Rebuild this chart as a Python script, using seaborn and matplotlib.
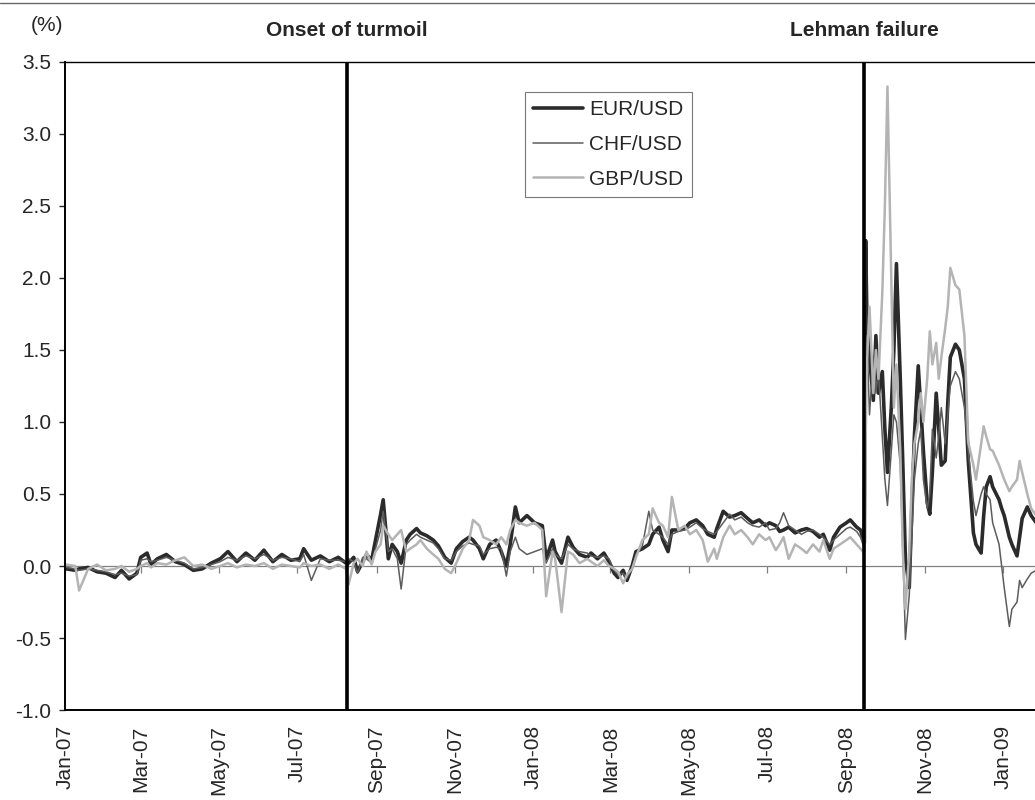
import pandas as pd
import matplotlib
matplotlib.use("Agg")
import matplotlib.pyplot as plt
import matplotlib.transforms as mtransforms
from matplotlib.lines import Line2D
import seaborn as sns

# ---- data (% deviation) ----
DATES = [
    # 2007, pre-turmoil
    "2007-01-02", "2007-01-09", "2007-01-12", "2007-01-19", "2007-01-26",
    "2007-02-02", "2007-02-09", "2007-02-14", "2007-02-20", "2007-02-26",
    "2007-03-01", "2007-03-06", "2007-03-09", "2007-03-14", "2007-03-21", "2007-03-28",
    "2007-04-04", "2007-04-11", "2007-04-18", "2007-04-25",
    "2007-05-02", "2007-05-08", "2007-05-15", "2007-05-22", "2007-05-29",
    "2007-06-05", "2007-06-12", "2007-06-19", "2007-06-26",
    "2007-07-03", "2007-07-06", "2007-07-12", "2007-07-19", "2007-07-26",
    "2007-08-02", "2007-08-08",
    # turmoil
    "2007-08-10", "2007-08-14", "2007-08-17", "2007-08-21", "2007-08-24", "2007-08-28", "2007-08-31",
    "2007-09-04", "2007-09-06", "2007-09-10", "2007-09-13", "2007-09-17", "2007-09-20", "2007-09-24", "2007-09-27",
    "2007-10-02", "2007-10-05", "2007-10-10", "2007-10-15", "2007-10-19", "2007-10-24",
    "2007-10-29", "2007-11-02", "2007-11-07", "2007-11-12", "2007-11-15", "2007-11-20", "2007-11-23",
    "2007-11-28", "2007-12-03", "2007-12-07", "2007-12-11", "2007-12-14", "2007-12-18", "2007-12-21",
    "2007-12-27", "2008-01-02", "2008-01-08", "2008-01-11", "2008-01-16", "2008-01-18", "2008-01-23",
    "2008-01-28", "2008-02-01", "2008-02-06", "2008-02-12", "2008-02-15", "2008-02-20", "2008-02-25",
    "2008-02-29", "2008-03-04", "2008-03-07", "2008-03-11", "2008-03-14", "2008-03-18", "2008-03-21",
    "2008-03-26", "2008-03-31",
    "2008-04-03", "2008-04-08", "2008-04-11", "2008-04-15", "2008-04-18", "2008-04-23", "2008-04-28",
    "2008-05-02", "2008-05-07", "2008-05-12", "2008-05-16", "2008-05-21", "2008-05-23", "2008-05-28",
    "2008-06-02", "2008-06-06", "2008-06-11", "2008-06-16", "2008-06-20", "2008-06-25", "2008-06-30",
    "2008-07-03", "2008-07-08", "2008-07-11", "2008-07-14", "2008-07-18", "2008-07-23", "2008-07-28",
    "2008-08-01", "2008-08-06", "2008-08-11", "2008-08-14", "2008-08-19", "2008-08-22", "2008-08-27",
    "2008-09-01", "2008-09-04", "2008-09-09", "2008-09-12",
    # post-Lehman
    "2008-09-15", "2008-09-16", "2008-09-17", "2008-09-19", "2008-09-22", "2008-09-24", "2008-09-26",
    "2008-09-29", "2008-10-01", "2008-10-03", "2008-10-06", "2008-10-08", "2008-10-10", "2008-10-13",
    "2008-10-15", "2008-10-17", "2008-10-20", "2008-10-22", "2008-10-24", "2008-10-27", "2008-10-29",
    "2008-10-31", "2008-11-03", "2008-11-05", "2008-11-07", "2008-11-10", "2008-11-12", "2008-11-14",
    "2008-11-17", "2008-11-19", "2008-11-21", "2008-11-25", "2008-11-28",
    "2008-12-02", "2008-12-05", "2008-12-09", "2008-12-11", "2008-12-15", "2008-12-17", "2008-12-19",
    "2008-12-22", "2008-12-24", "2008-12-29", "2008-12-31",
    "2009-01-02", "2009-01-06", "2009-01-08", "2009-01-12", "2009-01-14", "2009-01-16", "2009-01-20",
    "2009-01-23", "2009-01-27",
]

EUR_USD = [
    -0.02, -0.03, -0.02, -0.01, -0.04,
    -0.05, -0.08, -0.03, -0.09, -0.05,
    0.06, 0.09, 0.01, 0.05, 0.08, 0.03,
    0.01, -0.03, -0.02, 0.02,
    0.05, 0.10, 0.03, 0.09, 0.04,
    0.11, 0.03, 0.08, 0.04,
    0.05, 0.12, 0.04, 0.07, 0.03,
    0.06, 0.02,
    0.02, 0.06, -0.04, 0.03, 0.08, 0.04, 0.18,
    0.36, 0.46, 0.05, 0.15, 0.10, 0.02, 0.18, 0.22,
    0.26, 0.23, 0.21, 0.18, 0.14, 0.06,
    0.02, 0.12, 0.17, 0.20, 0.18, 0.12, 0.05,
    0.15, 0.18, 0.10, 0.00, 0.15, 0.41, 0.30,
    0.35, 0.30, 0.28, 0.05, 0.18, 0.10, 0.02,
    0.20, 0.13, 0.08, 0.06, 0.09, 0.05, 0.09,
    0.03, -0.05, -0.08, -0.03, -0.10, 0.00, 0.10,
    0.12, 0.15,
    0.22, 0.27, 0.18, 0.10, 0.25, 0.25, 0.26,
    0.30, 0.32, 0.28, 0.22, 0.20, 0.26, 0.38,
    0.34, 0.35, 0.37, 0.33, 0.30, 0.32, 0.28,
    0.30, 0.28, 0.24, 0.25, 0.27, 0.23, 0.25,
    0.26, 0.24, 0.20, 0.22, 0.11, 0.20, 0.27,
    0.30, 0.32, 0.27, 0.25,
    0.16, 2.26, 1.72, 1.45, 1.15, 1.60, 1.20,
    1.35, 0.95, 0.65, 1.10, 1.50, 2.10, 1.30,
    0.70, 0.05, -0.15, 0.40, 0.90, 1.39, 1.10,
    0.80, 0.44, 0.36, 0.65, 1.20, 0.95, 0.70,
    0.73, 1.13, 1.45, 1.54, 1.50,
    1.30, 0.73, 0.23, 0.15, 0.09, 0.35, 0.55,
    0.62, 0.55, 0.46, 0.40,
    0.35, 0.20, 0.15, 0.07, 0.20, 0.33, 0.41,
    0.35, 0.30,
]

CHF_USD = [
    -0.01, -0.02, -0.03, -0.02, -0.03,
    -0.04, -0.06, -0.05, -0.07, -0.06,
    0.04, 0.05, 0.03, 0.04, 0.06, 0.04,
    0.02, -0.02, -0.01, 0.01,
    0.03, 0.06, 0.04, 0.07, 0.05,
    0.08, 0.04, 0.06, 0.05,
    0.03, 0.08, -0.10, 0.05, 0.04,
    0.04, 0.03,
    0.05, 0.03, -0.05, 0.06, 0.05, 0.02, 0.12,
    0.25, 0.38, 0.10, 0.12, 0.05, -0.16, 0.15, 0.18,
    0.22, 0.20, 0.18, 0.16, 0.12, 0.05,
    0.04, 0.10, 0.14, 0.16, 0.15, 0.14, 0.08,
    0.12, 0.13, 0.12, -0.07, 0.10, 0.20, 0.12,
    0.08, 0.10, 0.12, 0.02, 0.12, 0.08, 0.05,
    0.15, 0.12, 0.10, 0.09, 0.07, 0.06, 0.07,
    0.05, -0.03, -0.06, -0.05, -0.08, -0.02, 0.08,
    0.14, 0.38,
    0.25, 0.22, 0.20, 0.15, 0.22, 0.24, 0.25,
    0.27, 0.30, 0.26, 0.24, 0.22, 0.24, 0.30,
    0.36, 0.32, 0.34, 0.30, 0.28, 0.27, 0.30,
    0.25, 0.26, 0.30, 0.37, 0.28, 0.25, 0.22,
    0.24, 0.25, 0.22, 0.20, 0.15, 0.18, 0.22,
    0.26, 0.27, 0.24, 0.20,
    0.12, 1.50, 1.60, 1.05, 1.45, 1.20, 1.35,
    0.90, 0.60, 0.42, 0.80, 1.05, 1.00, 0.70,
    0.10, -0.51, -0.20, 0.20, 0.60, 0.85, 0.95,
    0.60, 0.40, 0.50, 0.95, 0.75, 0.90, 1.10,
    0.85, 1.05, 1.25, 1.35, 1.30,
    1.10, 0.80, 0.45, 0.35, 0.50, 0.55, 0.50,
    0.46, 0.30, 0.15, 0.00,
    -0.15, -0.42, -0.30, -0.25, -0.10, -0.15, -0.09,
    -0.05, -0.03,
]

GBP_USD = [
    0.01, 0.00, -0.17, -0.02, 0.01,
    -0.03, -0.02, 0.00, -0.04, -0.02,
    0.00, 0.02, -0.01, 0.02, 0.01, 0.04,
    0.06, 0.00, 0.01, -0.02,
    0.00, 0.02, -0.01, 0.01, 0.00,
    0.02, -0.02, 0.01, 0.00,
    -0.01, 0.02, 0.00, 0.01, -0.02,
    0.01, -0.02,
    -0.13, 0.02, 0.05, 0.00, 0.10, 0.01, 0.10,
    0.15, 0.28, 0.22, 0.18, 0.22, 0.25, 0.10, 0.12,
    0.15, 0.18, 0.12, 0.08, 0.05, -0.02,
    -0.05, 0.02, 0.12, 0.18, 0.32, 0.28, 0.20,
    0.18, 0.15, 0.20, 0.15, 0.25, 0.32, 0.30,
    0.28, 0.30, 0.25, -0.21, 0.10, 0.05, -0.32,
    0.10, 0.08, 0.02, 0.05, 0.03, 0.00, 0.04,
    0.00, -0.02, -0.04, -0.12, -0.06, -0.02, 0.06,
    0.18, 0.22,
    0.40, 0.30, 0.28, 0.20, 0.48, 0.25, 0.28,
    0.22, 0.25, 0.18, 0.03, 0.12, 0.05, 0.20,
    0.28, 0.22, 0.25, 0.20, 0.15, 0.22, 0.18,
    0.20, 0.11, 0.15, 0.20, 0.05, 0.15, 0.12,
    0.09, 0.15, 0.10, 0.18, 0.05, 0.12, 0.15,
    0.18, 0.20, 0.15, 0.12,
    0.09, 0.90, 1.40, 1.80, 1.20, 1.50, 1.30,
    1.90, 2.50, 3.33, 2.00, 1.10, 1.40, 0.80,
    0.10, -0.30, 0.10, 0.60, 0.85, 1.00, 1.20,
    1.00, 1.30, 1.63, 1.40, 1.55, 1.30, 1.45,
    1.65, 1.80, 2.07, 1.95, 1.92,
    1.60, 0.86, 0.70, 0.60, 0.85, 0.97, 0.90,
    0.81, 0.80, 0.70, 0.65,
    0.60, 0.52, 0.55, 0.60, 0.73, 0.65, 0.50,
    0.40, 0.35,
]

TICK_DATES = ["2007-01-01", "2007-03-01", "2007-05-01", "2007-07-01", "2007-09-01",
              "2007-11-01", "2008-01-01", "2008-03-01", "2008-05-01", "2008-07-01",
              "2008-09-01", "2008-11-01", "2009-01-01"]
TICK_LABELS = ["Jan-07", "Mar-07", "May-07", "Jul-07", "Sep-07", "Nov-07", "Jan-08",
               "Mar-08", "May-08", "Jul-08", "Sep-08", "Nov-08", "Jan-09"]

EVENTS = {"Onset of turmoil": "2007-08-09", "Lehman failure": "2008-09-15"}

SERIES = {
    "EUR/USD": (EUR_USD, "#2b2b2b", 2.6),
    "CHF/USD": (CHF_USD, "#5c5c5c", 1.1),
    "GBP/USD": (GBP_USD, "#b4b4b4", 1.8),
}

sns.set_style("white")
plt.rcParams["font.family"] = ["Liberation Sans", "DejaVu Sans"]
plt.rcParams["axes.unicode_minus"] = False

dates = pd.to_datetime(DATES)
frames = []
for name, (vals, _, _) in SERIES.items():
    assert len(vals) == len(dates), name
    frames.append(pd.DataFrame({"date": dates, "value": vals, "pair": name}))
df = pd.concat(frames, ignore_index=True)

fig = plt.figure(figsize=(10.35, 8), dpi=100)
ax = fig.add_axes([65 / 1035, 1 - 710 / 800, 970 / 1035, 648 / 800])

for name, (_, color, lw) in SERIES.items():
    sub = df[df["pair"] == name]
    sns.lineplot(data=sub, x="date", y="value", ax=ax, color=color,
                 linewidth=lw, label=name, estimator=None)

# zero line with the category-axis ticks
ax.axhline(0, color="#808080", lw=0.9, zorder=1)
tick_dates = pd.to_datetime(TICK_DATES)
ax.vlines(tick_dates, -0.05, 0, color="#808080", lw=0.9, zorder=1)

# event lines and labels
trans = mtransforms.blended_transform_factory(ax.transData, ax.transAxes)
for label, d in EVENTS.items():
    ax.axvline(pd.Timestamp(d), color="black", lw=2.6, zorder=5)
    ax.text(pd.Timestamp(d), 1.049, label, transform=trans, ha="center",
            va="center", fontsize=15, fontweight="bold")

ax.text(-0.019, 1.056, "(%)", transform=ax.transAxes, ha="center",
        va="center", fontsize=15)

ax.set_xlim(pd.Timestamp("2007-01-01"), pd.Timestamp("2009-01-26"))
ax.set_ylim(-1.0, 3.5)
ax.set_yticks([-1.0, -0.5, 0.0, 0.5, 1.0, 1.5, 2.0, 2.5, 3.0, 3.5])
ax.set_yticklabels([f"{v:.1f}" for v in ax.get_yticks()], fontsize=15)
ax.set_xticks(tick_dates)
ax.set_xticklabels(TICK_LABELS, rotation=90, fontsize=15)
ax.tick_params(axis="x", length=0, pad=11)
ax.tick_params(axis="y", length=4, width=1, direction="out", pad=6, left=True)
ax.set_xlabel("")
ax.set_ylabel("")

for side in ["left", "bottom"]:
    ax.spines[side].set_color("black")
    ax.spines[side].set_linewidth(1.4)
ax.spines["top"].set_color("black")
ax.spines["top"].set_linewidth(1.0)
ax.spines["right"].set_visible(False)

leg = ax.legend(loc="upper right", bbox_to_anchor=(692 / 1035, 1 - 92 / 800),
                bbox_transform=fig.transFigure, fontsize=15, frameon=True,
                fancybox=False, framealpha=1, edgecolor="#777777",
                handlelength=2.4, labelspacing=0.75, borderpad=0.4,
                handletextpad=0.3, borderaxespad=0)
leg.get_frame().set_linewidth(0.8)

# scan frame line at the very top
fig.add_artist(Line2D([0, 1], [1 - 3 / 800, 1 - 3 / 800], transform=fig.transFigure,
                      color="#666666", lw=1.0))

plt.savefig("out.png", dpi=100)
plt.close()
